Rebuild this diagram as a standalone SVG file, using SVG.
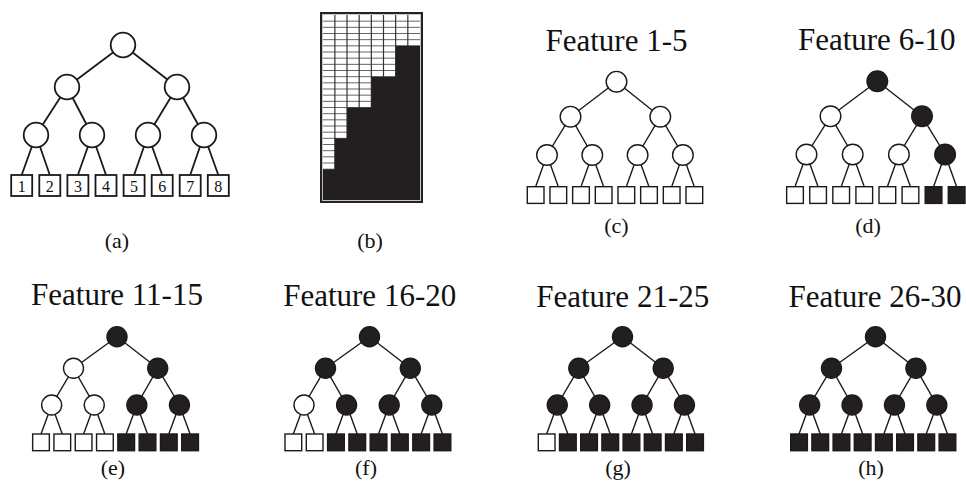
<svg xmlns="http://www.w3.org/2000/svg" width="966" height="483" viewBox="0 0 966 483">
<style>
.e{stroke:#1a1a1a;stroke-width:1.4;fill:none}
.ea{stroke:#1a1a1a;stroke-width:1.8;fill:none}
.w{fill:#fff;stroke:#1a1a1a;stroke-width:1.4}
.k{fill:#231f20;stroke:#1a1a1a;stroke-width:1.4}
.wa{fill:#fff;stroke:#1a1a1a;stroke-width:1.8}
.t{font-family:"Liberation Serif","Times New Roman",serif;fill:#111}
.ti{font-size:31px;text-anchor:middle}
.lb{font-size:22px;text-anchor:middle}
.num{font-size:16px;text-anchor:middle}
.gv{stroke:#333;stroke-width:1.2}
.gh{stroke:#666;stroke-width:1}
</style>
<rect width="966" height="483" fill="#fff"/>

<!-- connectors -->
<g id="connectors">
 <!-- (a) -->
 <g class="ea">
  <line x1="123" y1="45" x2="67" y2="87"/><line x1="123" y1="45" x2="177" y2="87"/>
  <line x1="67" y1="87" x2="36" y2="135"/><line x1="67" y1="87" x2="92" y2="135"/>
  <line x1="177" y1="87" x2="148" y2="135"/><line x1="177" y1="87" x2="204" y2="135"/>
  <line x1="36" y1="135" x2="21.7" y2="175"/><line x1="36" y1="135" x2="49.8" y2="175"/>
  <line x1="92" y1="135" x2="77.9" y2="175"/><line x1="92" y1="135" x2="106" y2="175"/>
  <line x1="148" y1="135" x2="134.1" y2="175"/><line x1="148" y1="135" x2="162.2" y2="175"/>
  <line x1="204" y1="135" x2="190.2" y2="175"/><line x1="204" y1="135" x2="218.3" y2="175"/>
 </g>
 <!-- (c) -->
 <g class="e">
  <line x1="616.5" y1="81.7" x2="570.5" y2="116.7"/><line x1="616.5" y1="81.7" x2="660.3" y2="116.7"/>
  <line x1="570.5" y1="116.7" x2="547" y2="155"/><line x1="570.5" y1="116.7" x2="592.3" y2="155"/>
  <line x1="660.3" y1="116.7" x2="637.6" y2="155"/><line x1="660.3" y1="116.7" x2="682.9" y2="155"/>
  <line x1="547" y1="155" x2="535.65" y2="186.7"/><line x1="547" y1="155" x2="558.32" y2="186.7"/>
  <line x1="592.3" y1="155" x2="580.99" y2="186.7"/><line x1="592.3" y1="155" x2="603.66" y2="186.7"/>
  <line x1="637.6" y1="155" x2="626.33" y2="186.7"/><line x1="637.6" y1="155" x2="649" y2="186.7"/>
  <line x1="682.9" y1="155" x2="671.67" y2="186.7"/><line x1="682.9" y1="155" x2="694.34" y2="186.7"/>
 </g>
 <!-- (d) -->
 <g class="e">
  <line x1="877.3" y1="81.3" x2="830.5" y2="116.3"/><line x1="877.3" y1="81.3" x2="922" y2="116.3"/>
  <line x1="830.5" y1="116.3" x2="806.5" y2="154.5"/><line x1="830.5" y1="116.3" x2="852.7" y2="154.5"/>
  <line x1="922" y1="116.3" x2="898.9" y2="154.5"/><line x1="922" y1="116.3" x2="945.1" y2="154.5"/>
  <line x1="806.5" y1="154.5" x2="795" y2="186.7"/><line x1="806.5" y1="154.5" x2="818.09" y2="186.7"/>
  <line x1="852.7" y1="154.5" x2="841.18" y2="186.7"/><line x1="852.7" y1="154.5" x2="864.27" y2="186.7"/>
  <line x1="898.9" y1="154.5" x2="887.36" y2="186.7"/><line x1="898.9" y1="154.5" x2="910.45" y2="186.7"/>
  <line x1="945.1" y1="154.5" x2="933.54" y2="186.7"/><line x1="945.1" y1="154.5" x2="956.63" y2="186.7"/>
 </g>
 <!-- (e) -->
 <g class="e">
  <line x1="117" y1="336.7" x2="73.5" y2="368.3"/><line x1="117" y1="336.7" x2="157.7" y2="368.3"/>
  <line x1="73.5" y1="368.3" x2="51.65" y2="405"/><line x1="73.5" y1="368.3" x2="94.25" y2="405"/>
  <line x1="157.7" y1="368.3" x2="136.85" y2="405"/><line x1="157.7" y1="368.3" x2="179.45" y2="405"/>
  <line x1="51.65" y1="405" x2="41" y2="434"/><line x1="51.65" y1="405" x2="62.3" y2="434"/>
  <line x1="94.25" y1="405" x2="83.6" y2="434"/><line x1="94.25" y1="405" x2="104.9" y2="434"/>
  <line x1="136.85" y1="405" x2="126.2" y2="434"/><line x1="136.85" y1="405" x2="147.5" y2="434"/>
  <line x1="179.45" y1="405" x2="168.8" y2="434"/><line x1="179.45" y1="405" x2="190.1" y2="434"/>
 </g>
 <!-- (f) -->
 <g class="e">
  <line x1="369.5" y1="336.7" x2="325.5" y2="368.3"/><line x1="369.5" y1="336.7" x2="410.3" y2="368.3"/>
  <line x1="325.5" y1="368.3" x2="304" y2="405"/><line x1="325.5" y1="368.3" x2="346.6" y2="405"/>
  <line x1="410.3" y1="368.3" x2="389.2" y2="405"/><line x1="410.3" y1="368.3" x2="431.8" y2="405"/>
  <line x1="304" y1="405" x2="293.35" y2="434"/><line x1="304" y1="405" x2="314.65" y2="434"/>
  <line x1="346.6" y1="405" x2="335.95" y2="434"/><line x1="346.6" y1="405" x2="357.25" y2="434"/>
  <line x1="389.2" y1="405" x2="378.55" y2="434"/><line x1="389.2" y1="405" x2="399.85" y2="434"/>
  <line x1="431.8" y1="405" x2="421.15" y2="434"/><line x1="431.8" y1="405" x2="442.45" y2="434"/>
 </g>
 <!-- (g) -->
 <g class="e">
  <line x1="622.5" y1="336.7" x2="578.8" y2="368.3"/><line x1="622.5" y1="336.7" x2="663.2" y2="368.3"/>
  <line x1="578.8" y1="368.3" x2="557.25" y2="405"/><line x1="578.8" y1="368.3" x2="599.65" y2="405"/>
  <line x1="663.2" y1="368.3" x2="642.05" y2="405"/><line x1="663.2" y1="368.3" x2="684.45" y2="405"/>
  <line x1="557.25" y1="405" x2="546.65" y2="434"/><line x1="557.25" y1="405" x2="567.85" y2="434"/>
  <line x1="599.65" y1="405" x2="589.05" y2="434"/><line x1="599.65" y1="405" x2="610.25" y2="434"/>
  <line x1="642.05" y1="405" x2="631.45" y2="434"/><line x1="642.05" y1="405" x2="652.65" y2="434"/>
  <line x1="684.45" y1="405" x2="673.85" y2="434"/><line x1="684.45" y1="405" x2="695.05" y2="434"/>
 </g>
 <!-- (h) -->
 <g class="e">
  <line x1="875.5" y1="336.7" x2="831.5" y2="368.3"/><line x1="875.5" y1="336.7" x2="915.9" y2="368.3"/>
  <line x1="831.5" y1="368.3" x2="809.65" y2="405"/><line x1="831.5" y1="368.3" x2="852.05" y2="405"/>
  <line x1="915.9" y1="368.3" x2="894.45" y2="405"/><line x1="915.9" y1="368.3" x2="936.85" y2="405"/>
  <line x1="809.65" y1="405" x2="799.05" y2="434"/><line x1="809.65" y1="405" x2="820.25" y2="434"/>
  <line x1="852.05" y1="405" x2="841.45" y2="434"/><line x1="852.05" y1="405" x2="862.65" y2="434"/>
  <line x1="894.45" y1="405" x2="883.85" y2="434"/><line x1="894.45" y1="405" x2="905.05" y2="434"/>
  <line x1="936.85" y1="405" x2="926.25" y2="434"/><line x1="936.85" y1="405" x2="947.45" y2="434"/>
 </g>
</g>

<!-- panel (a) -->
<g id="panel-a">
 <g id="a-n1"><circle class="wa" cx="123" cy="45" r="12.3"/></g>
 <g id="a-n2"><circle class="wa" cx="67" cy="87" r="12.3"/></g>
 <g id="a-n3"><circle class="wa" cx="177" cy="87" r="12.3"/></g>
 <g id="a-n4"><circle class="wa" cx="36" cy="135" r="12.3"/></g>
 <g id="a-n5"><circle class="wa" cx="92" cy="135" r="12.3"/></g>
 <g id="a-n6"><circle class="wa" cx="148" cy="135" r="12.3"/></g>
 <g id="a-n7"><circle class="wa" cx="204" cy="135" r="12.3"/></g>
 <g id="a-l1"><rect class="wa" x="11.2" y="175" width="21" height="21"/><text class="t num" x="21.7" y="191.5">1</text></g>
 <g id="a-l2"><rect class="wa" x="39.3" y="175" width="21" height="21"/><text class="t num" x="49.8" y="191.5">2</text></g>
 <g id="a-l3"><rect class="wa" x="67.4" y="175" width="21" height="21"/><text class="t num" x="77.9" y="191.5">3</text></g>
 <g id="a-l4"><rect class="wa" x="95.5" y="175" width="21" height="21"/><text class="t num" x="106" y="191.5">4</text></g>
 <g id="a-l5"><rect class="wa" x="123.6" y="175" width="21" height="21"/><text class="t num" x="134.1" y="191.5">5</text></g>
 <g id="a-l6"><rect class="wa" x="151.7" y="175" width="21" height="21"/><text class="t num" x="162.2" y="191.5">6</text></g>
 <g id="a-l7"><rect class="wa" x="179.7" y="175" width="21" height="21"/><text class="t num" x="190.2" y="191.5">7</text></g>
 <g id="a-l8"><rect class="wa" x="207.8" y="175" width="21" height="21"/><text class="t num" x="218.3" y="191.5">8</text></g>
 <text class="t lb" x="117" y="248">(a)</text>
</g>

<!-- panel (b) -->
<g id="panel-b">
 <rect x="322.7" y="15" width="97.3" height="185" fill="#fff"/>
 <g class="gh">
  <line x1="322.7" y1="21.17" x2="420" y2="21.17"/><line x1="322.7" y1="27.33" x2="420" y2="27.33"/>
  <line x1="322.7" y1="33.5" x2="420" y2="33.5"/><line x1="322.7" y1="39.67" x2="420" y2="39.67"/>
  <line x1="322.7" y1="45.83" x2="420" y2="45.83"/><line x1="322.7" y1="52" x2="420" y2="52"/>
  <line x1="322.7" y1="58.17" x2="420" y2="58.17"/><line x1="322.7" y1="64.33" x2="420" y2="64.33"/>
  <line x1="322.7" y1="70.5" x2="420" y2="70.5"/><line x1="322.7" y1="76.67" x2="420" y2="76.67"/>
  <line x1="322.7" y1="82.83" x2="420" y2="82.83"/><line x1="322.7" y1="89" x2="420" y2="89"/>
  <line x1="322.7" y1="95.17" x2="420" y2="95.17"/><line x1="322.7" y1="101.33" x2="420" y2="101.33"/>
  <line x1="322.7" y1="107.5" x2="420" y2="107.5"/><line x1="322.7" y1="113.67" x2="420" y2="113.67"/>
  <line x1="322.7" y1="119.83" x2="420" y2="119.83"/><line x1="322.7" y1="126" x2="420" y2="126"/>
  <line x1="322.7" y1="132.17" x2="420" y2="132.17"/><line x1="322.7" y1="138.33" x2="420" y2="138.33"/>
  <line x1="322.7" y1="144.5" x2="420" y2="144.5"/><line x1="322.7" y1="150.67" x2="420" y2="150.67"/>
  <line x1="322.7" y1="156.83" x2="420" y2="156.83"/><line x1="322.7" y1="163" x2="420" y2="163"/>
  <line x1="322.7" y1="169.17" x2="420" y2="169.17"/><line x1="322.7" y1="175.33" x2="420" y2="175.33"/>
  <line x1="322.7" y1="181.5" x2="420" y2="181.5"/><line x1="322.7" y1="187.67" x2="420" y2="187.67"/>
  <line x1="322.7" y1="193.83" x2="420" y2="193.83"/>
 </g>
 <g class="gv">
  <line x1="334.86" y1="15" x2="334.86" y2="200"/><line x1="347.02" y1="15" x2="347.02" y2="200"/>
  <line x1="359.18" y1="15" x2="359.18" y2="200"/><line x1="371.34" y1="15" x2="371.34" y2="200"/>
  <line x1="383.5" y1="15" x2="383.5" y2="200"/><line x1="395.66" y1="15" x2="395.66" y2="200"/>
  <line x1="407.82" y1="15" x2="407.82" y2="200"/>
 </g>
 <polygon fill="#231f20" points="322.7,169.17 334.86,169.17 334.86,138.33 347.02,138.33 347.02,107.5 371.34,107.5 371.34,76.67 395.66,76.67 395.66,45.83 420,45.83 420,200 322.7,200"/>
 <rect x="322.3" y="14.3" width="98.4" height="186.4" fill="none" stroke="#bbb" stroke-width="1"/>
 <rect x="321" y="13" width="101" height="189" fill="none" stroke="#222" stroke-width="2"/>
 <text class="t lb" x="370" y="248">(b)</text>
</g>

<!-- panel (c) -->
<g id="panel-c">
 <text class="t ti" x="616.5" y="51">Feature 1-5</text>
 <g id="c-n1"><circle class="w" cx="616.5" cy="81.7" r="10.3"/></g>
 <g id="c-n2"><circle class="w" cx="570.5" cy="116.7" r="10.3"/></g>
 <g id="c-n3"><circle class="w" cx="660.3" cy="116.7" r="10.3"/></g>
 <g id="c-n4"><circle class="w" cx="547" cy="155" r="10.3"/></g>
 <g id="c-n5"><circle class="w" cx="592.3" cy="155" r="10.3"/></g>
 <g id="c-n6"><circle class="w" cx="637.6" cy="155" r="10.3"/></g>
 <g id="c-n7"><circle class="w" cx="682.9" cy="155" r="10.3"/></g>
 <g id="c-l1"><rect class="w" x="527.3" y="186.7" width="16.7" height="16.7"/></g>
 <g id="c-l2"><rect class="w" x="549.97" y="186.7" width="16.7" height="16.7"/></g>
 <g id="c-l3"><rect class="w" x="572.64" y="186.7" width="16.7" height="16.7"/></g>
 <g id="c-l4"><rect class="w" x="595.31" y="186.7" width="16.7" height="16.7"/></g>
 <g id="c-l5"><rect class="w" x="617.98" y="186.7" width="16.7" height="16.7"/></g>
 <g id="c-l6"><rect class="w" x="640.65" y="186.7" width="16.7" height="16.7"/></g>
 <g id="c-l7"><rect class="w" x="663.32" y="186.7" width="16.7" height="16.7"/></g>
 <g id="c-l8"><rect class="w" x="685.99" y="186.7" width="16.7" height="16.7"/></g>
 <text class="t lb" x="616.5" y="233">(c)</text>
</g>

<!-- panel (d) -->
<g id="panel-d">
 <text class="t ti" x="876.7" y="50">Feature 6-10</text>
 <g id="d-n1"><circle class="k" cx="877.3" cy="81.3" r="10.3"/></g>
 <g id="d-n2"><circle class="w" cx="830.5" cy="116.3" r="10.3"/></g>
 <g id="d-n3"><circle class="k" cx="922" cy="116.3" r="10.3"/></g>
 <g id="d-n4"><circle class="w" cx="806.5" cy="154.5" r="10.3"/></g>
 <g id="d-n5"><circle class="w" cx="852.7" cy="154.5" r="10.3"/></g>
 <g id="d-n6"><circle class="w" cx="898.9" cy="154.5" r="10.3"/></g>
 <g id="d-n7"><circle class="k" cx="945.1" cy="154.5" r="10.3"/></g>
 <g id="d-l1"><rect class="w" x="786.65" y="186.7" width="16.7" height="16.7"/></g>
 <g id="d-l2"><rect class="w" x="809.74" y="186.7" width="16.7" height="16.7"/></g>
 <g id="d-l3"><rect class="w" x="832.83" y="186.7" width="16.7" height="16.7"/></g>
 <g id="d-l4"><rect class="w" x="855.92" y="186.7" width="16.7" height="16.7"/></g>
 <g id="d-l5"><rect class="w" x="879.01" y="186.7" width="16.7" height="16.7"/></g>
 <g id="d-l6"><rect class="w" x="902.1" y="186.7" width="16.7" height="16.7"/></g>
 <g id="d-l7"><rect class="k" x="925.19" y="186.7" width="16.7" height="16.7"/></g>
 <g id="d-l8"><rect class="k" x="948.28" y="186.7" width="16.7" height="16.7"/></g>
 <text class="t lb" x="868" y="233">(d)</text>
</g>

<!-- panel (e) -->
<g id="panel-e">
 <text class="t ti" x="117" y="305">Feature 11-15</text>
 <g id="e-n1"><circle class="k" cx="117" cy="336.7" r="10"/></g>
 <g id="e-n2"><circle class="w" cx="73.5" cy="368.3" r="10"/></g>
 <g id="e-n3"><circle class="k" cx="157.7" cy="368.3" r="10"/></g>
 <g id="e-n4"><circle class="w" cx="51.65" cy="405" r="10"/></g>
 <g id="e-n5"><circle class="w" cx="94.25" cy="405" r="10"/></g>
 <g id="e-n6"><circle class="k" cx="136.85" cy="405" r="10"/></g>
 <g id="e-n7"><circle class="k" cx="179.45" cy="405" r="10"/></g>
 <g id="e-l1"><rect class="w" x="32.65" y="434" width="16.7" height="16.7"/></g>
 <g id="e-l2"><rect class="w" x="53.95" y="434" width="16.7" height="16.7"/></g>
 <g id="e-l3"><rect class="w" x="75.25" y="434" width="16.7" height="16.7"/></g>
 <g id="e-l4"><rect class="w" x="96.55" y="434" width="16.7" height="16.7"/></g>
 <g id="e-l5"><rect class="k" x="117.85" y="434" width="16.7" height="16.7"/></g>
 <g id="e-l6"><rect class="k" x="139.15" y="434" width="16.7" height="16.7"/></g>
 <g id="e-l7"><rect class="k" x="160.45" y="434" width="16.7" height="16.7"/></g>
 <g id="e-l8"><rect class="k" x="181.75" y="434" width="16.7" height="16.7"/></g>
 <text class="t lb" x="113" y="475">(e)</text>
</g>

<!-- panel (f) -->
<g id="panel-f">
 <text class="t ti" x="369.7" y="305.7">Feature 16-20</text>
 <g id="f-n1"><circle class="k" cx="369.5" cy="336.7" r="10"/></g>
 <g id="f-n2"><circle class="k" cx="325.5" cy="368.3" r="10"/></g>
 <g id="f-n3"><circle class="k" cx="410.3" cy="368.3" r="10"/></g>
 <g id="f-n4"><circle class="w" cx="304" cy="405" r="10"/></g>
 <g id="f-n5"><circle class="k" cx="346.6" cy="405" r="10"/></g>
 <g id="f-n6"><circle class="k" cx="389.2" cy="405" r="10"/></g>
 <g id="f-n7"><circle class="k" cx="431.8" cy="405" r="10"/></g>
 <g id="f-l1"><rect class="w" x="285" y="434" width="16.7" height="16.7"/></g>
 <g id="f-l2"><rect class="w" x="306.3" y="434" width="16.7" height="16.7"/></g>
 <g id="f-l3"><rect class="k" x="327.6" y="434" width="16.7" height="16.7"/></g>
 <g id="f-l4"><rect class="k" x="348.9" y="434" width="16.7" height="16.7"/></g>
 <g id="f-l5"><rect class="k" x="370.2" y="434" width="16.7" height="16.7"/></g>
 <g id="f-l6"><rect class="k" x="391.5" y="434" width="16.7" height="16.7"/></g>
 <g id="f-l7"><rect class="k" x="412.8" y="434" width="16.7" height="16.7"/></g>
 <g id="f-l8"><rect class="k" x="434.1" y="434" width="16.7" height="16.7"/></g>
 <text class="t lb" x="366" y="475">(f)</text>
</g>

<!-- panel (g) -->
<g id="panel-g">
 <text class="t ti" x="622.7" y="306.7">Feature 21-25</text>
 <g id="g-n1"><circle class="k" cx="622.5" cy="336.7" r="10"/></g>
 <g id="g-n2"><circle class="k" cx="578.8" cy="368.3" r="10"/></g>
 <g id="g-n3"><circle class="k" cx="663.2" cy="368.3" r="10"/></g>
 <g id="g-n4"><circle class="k" cx="557.25" cy="405" r="10"/></g>
 <g id="g-n5"><circle class="k" cx="599.65" cy="405" r="10"/></g>
 <g id="g-n6"><circle class="k" cx="642.05" cy="405" r="10"/></g>
 <g id="g-n7"><circle class="k" cx="684.45" cy="405" r="10"/></g>
 <g id="g-l1"><rect class="w" x="538.3" y="434" width="16.7" height="16.7"/></g>
 <g id="g-l2"><rect class="k" x="559.5" y="434" width="16.7" height="16.7"/></g>
 <g id="g-l3"><rect class="k" x="580.7" y="434" width="16.7" height="16.7"/></g>
 <g id="g-l4"><rect class="k" x="601.9" y="434" width="16.7" height="16.7"/></g>
 <g id="g-l5"><rect class="k" x="623.1" y="434" width="16.7" height="16.7"/></g>
 <g id="g-l6"><rect class="k" x="644.3" y="434" width="16.7" height="16.7"/></g>
 <g id="g-l7"><rect class="k" x="665.5" y="434" width="16.7" height="16.7"/></g>
 <g id="g-l8"><rect class="k" x="686.7" y="434" width="16.7" height="16.7"/></g>
 <text class="t lb" x="618" y="475">(g)</text>
</g>

<!-- panel (h) -->
<g id="panel-h">
 <text class="t ti" x="875" y="306.7">Feature 26-30</text>
 <g id="h-n1"><circle class="k" cx="875.5" cy="336.7" r="10"/></g>
 <g id="h-n2"><circle class="k" cx="831.5" cy="368.3" r="10"/></g>
 <g id="h-n3"><circle class="k" cx="915.9" cy="368.3" r="10"/></g>
 <g id="h-n4"><circle class="k" cx="809.65" cy="405" r="10"/></g>
 <g id="h-n5"><circle class="k" cx="852.05" cy="405" r="10"/></g>
 <g id="h-n6"><circle class="k" cx="894.45" cy="405" r="10"/></g>
 <g id="h-n7"><circle class="k" cx="936.85" cy="405" r="10"/></g>
 <g id="h-l1"><rect class="k" x="790.7" y="434" width="16.7" height="16.7"/></g>
 <g id="h-l2"><rect class="k" x="811.9" y="434" width="16.7" height="16.7"/></g>
 <g id="h-l3"><rect class="k" x="833.1" y="434" width="16.7" height="16.7"/></g>
 <g id="h-l4"><rect class="k" x="854.3" y="434" width="16.7" height="16.7"/></g>
 <g id="h-l5"><rect class="k" x="875.5" y="434" width="16.7" height="16.7"/></g>
 <g id="h-l6"><rect class="k" x="896.7" y="434" width="16.7" height="16.7"/></g>
 <g id="h-l7"><rect class="k" x="917.9" y="434" width="16.7" height="16.7"/></g>
 <g id="h-l8"><rect class="k" x="939.1" y="434" width="16.7" height="16.7"/></g>
 <text class="t lb" x="871" y="475">(h)</text>
</g>
</svg>
